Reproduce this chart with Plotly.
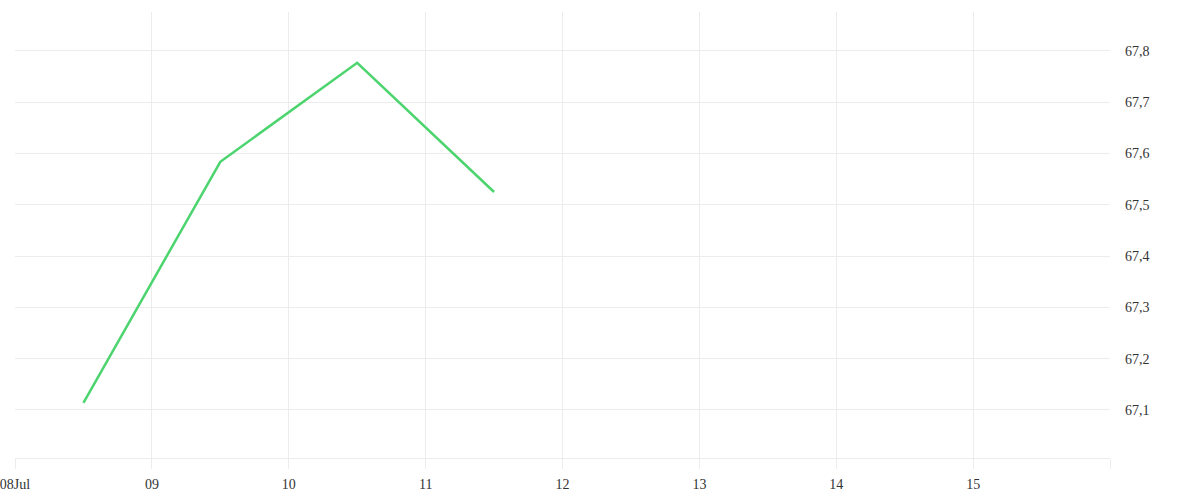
import plotly.graph_objects as go

# Daily values (plotted at midday)
dates = ['2024-07-08 12:00', '2024-07-09 12:00', '2024-07-10 12:00', '2024-07-11 12:00']
values = [67.114, 67.584, 67.777, 67.525]

tick_dates = ['2024-07-08', '2024-07-09', '2024-07-10', '2024-07-11',
              '2024-07-12', '2024-07-13', '2024-07-14', '2024-07-15', '2024-07-16']
tick_labels = ['08Jul', '09', '10', '11', '12', '13', '14', '15', '']

grid = '#ececec'

fig = go.Figure(
    go.Scatter(
        x=dates,
        y=values,
        mode='lines',
        line={'color': '#4cd46e', 'width': 2.5},
        showlegend=False,
    )
)

fig.update_layout(
    width=1200,
    height=500,
    margin={'l': 15, 'r': 90, 't': 12, 'b': 42},
    plot_bgcolor='white',
    paper_bgcolor='white',
    separators=',.',
    font={'family': 'Liberation Serif', 'size': 14, 'color': '#333333'},
)

fig.update_xaxes(
    range=['2024-07-08', '2024-07-16'],
    tickvals=tick_dates,
    ticktext=tick_labels,
    showgrid=True,
    gridcolor=grid,
    ticks='outside',
    ticklen=10,
    tickcolor=grid,
    showline=True,
    linecolor=grid,
    zeroline=False,
    automargin=False,
    ticklabelstandoff=3,
    ticklabeloverflow='allow',
)

fig.update_yaxes(
    side='right',
    range=[67.0064, 67.876],
    tickvals=[67.1, 67.2, 67.3, 67.4, 67.5, 67.6, 67.7, 67.8],
    tickformat='.1f',
    showgrid=True,
    gridcolor=grid,
    ticks='',
    ticklabelstandoff=14,
    zeroline=False,
    automargin=False,
)

# drop the default body margin so the chart sits at the page corner
fig.write_html(
    'out.html',
    config={'displayModeBar': False},
    post_script="document.body.style.margin = '0';",
)
